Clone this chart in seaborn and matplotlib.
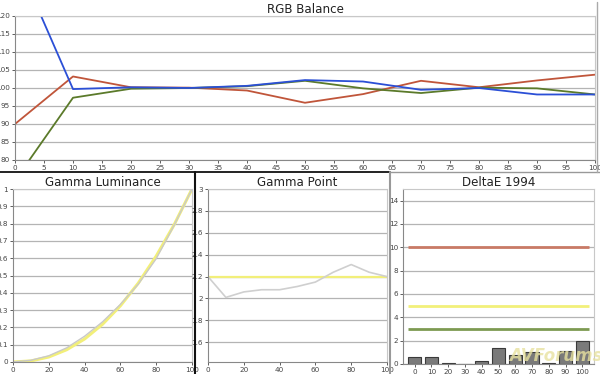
import matplotlib
matplotlib.use("Agg")
import matplotlib.pyplot as plt
import seaborn as sns
import pandas as pd
import numpy as np
from matplotlib.lines import Line2D

sns.set_theme(style="white")
plt.rcParams['font.family'] = ['DejaVu Sans']

# ---- data ----
levels = [0, 10, 20, 30, 40, 50, 60, 70, 80, 90, 100]
red = [90.0, 103.2, 100.2, 100.1, 99.3, 95.9, 98.3, 102.0, 100.2, 102.1, 103.7]
green = [74.3, 97.3, 99.8, 100.0, 100.5, 102.0, 99.9, 98.6, 100.1, 99.9, 98.2]
blue = [136.6, 99.7, 100.2, 100.0, 100.6, 102.2, 101.8, 99.5, 100.0, 98.2, 98.2]

lum_measured = [0.0, 0.0098, 0.036, 0.082, 0.149, 0.232, 0.333, 0.450, 0.597, 0.790, 1.0]
lum_target = [0.0, 0.0063, 0.029, 0.071, 0.133, 0.218, 0.325, 0.456, 0.612, 0.793, 1.0]

gamma_measured = [2.20, 2.01, 2.06, 2.08, 2.08, 2.11, 2.15, 2.24, 2.31, 2.24, 2.20]
gamma_target = [2.2] * 11

delta_e = [0.6, 0.6, 0.05, 0.0, 0.25, 1.35, 0.8, 1.0, 0.05, 1.1, 1.95]
de_thresholds = [10, 5, 3]
de_colors = ['#c97a66', '#f2f07a', '#7d9a52']

rgb_xticks = list(range(0, 101, 5))
rgb_yticks = list(range(80, 121, 5))
lum_yticks = [0, 0.1, 0.2, 0.3, 0.4, 0.5, 0.6, 0.7, 0.8, 0.9, 1]
lum_ytlabels = ['0', '0.1', '0.2', '0.3', '0.4', '0.5', '0.6', '0.7', '0.8', '0.9', '1']
pt_xticks = [0, 20, 40, 60, 80, 100]
gp_yticks = [1.6, 1.8, 2.0, 2.2, 2.4, 2.6, 2.8, 3.0]
gp_ytlabels = ['1.6', '1.8', '2', '2.2', '2.4', '2.6', '2.8', '3']
de_yticks = [0, 2, 4, 6, 8, 10, 12, 14]

# ---- figure ----
W, H = 600, 374
fig = plt.figure(figsize=(6.0, 3.74), dpi=100)
fig.patch.set_facecolor('white')

def box(l, t, r, b):
    return [l / W, 1 - b / H, (r - l) / W, (b - t) / H]

tick_fs = 5.2
tick_col = '#444444'
grid_col = '#b4b4b4'
frame_col = '#c8c8c8'
title_fs = 8.6

def style(ax):
    for s in ax.spines.values():
        s.set_color(frame_col)
        s.set_linewidth(0.8)
    ax.spines['left'].set_color('#888888')
    ax.spines['bottom'].set_color('#888888')
    ax.tick_params(axis='both', labelsize=tick_fs, colors=tick_col, length=2.5,
                   width=0.6, pad=1, direction='out', left=True, bottom=True)
    ax.yaxis.grid(True, color=grid_col, linewidth=0.9)
    ax.xaxis.grid(False)
    ax.set_xlabel('')
    ax.set_ylabel('')
    ax.set_facecolor('white')

# Top: RGB Balance
ax1 = fig.add_axes(box(15, 16, 595, 160))
df_rgb = pd.DataFrame({'level': levels * 3,
                       'value': red + green + blue,
                       'ch': ['R'] * 11 + ['G'] * 11 + ['B'] * 11})
sns.lineplot(data=df_rgb, x='level', y='value', hue='ch',
             palette={'R': '#c0553a', 'G': '#5b7a2a', 'B': '#2b4fd6'},
             hue_order=['R', 'G', 'B'], linewidth=1.3, legend=False, ax=ax1)
ax1.set_xlim(0, 100)
ax1.set_ylim(80, 120)
ax1.set_xticks(rgb_xticks)
ax1.set_yticks(rgb_yticks)
style(ax1)
ax1.set_title('RGB Balance', fontsize=title_fs, color='#222222', pad=2)

# Gamma Luminance
ax2 = fig.add_axes(box(13, 189, 192, 362))
df_lum = pd.DataFrame({'level': levels * 2, 'value': lum_target + lum_measured,
                       'kind': ['t'] * 11 + ['m'] * 11})
sns.lineplot(data=df_lum[df_lum.kind == 't'], x='level', y='value', color='#f2ef7a',
             linewidth=2.2, ax=ax2)
sns.lineplot(data=df_lum[df_lum.kind == 'm'], x='level', y='value', color='#c9c9c9',
             linewidth=1.0, ax=ax2)
ax2.set_xlim(0, 100)
ax2.set_ylim(0, 1)
ax2.set_xticks(pt_xticks)
ax2.set_xticklabels([str(v) for v in pt_xticks])
ax2.set_yticks(lum_yticks)
ax2.set_yticklabels(lum_ytlabels)
style(ax2)
ax2.set_title('Gamma Luminance', fontsize=title_fs, color='#222222', pad=2)

# Gamma Point
ax3 = fig.add_axes(box(208, 189, 387, 362))
df_gp = pd.DataFrame({'level': levels * 2, 'value': gamma_target + gamma_measured,
                      'kind': ['t'] * 11 + ['m'] * 11})
sns.lineplot(data=df_gp[df_gp.kind == 't'], x='level', y='value', color='#f2ef7a',
             linewidth=1.6, ax=ax3)
sns.lineplot(data=df_gp[df_gp.kind == 'm'], x='level', y='value', color='#cfcfcf',
             linewidth=1.2, ax=ax3)
ax3.set_xlim(0, 100)
ax3.set_ylim(1.42, 3.0)
ax3.set_xticks(pt_xticks)
ax3.set_xticklabels([str(v) for v in pt_xticks])
ax3.set_yticks(gp_yticks)
ax3.set_yticklabels(gp_ytlabels)
style(ax3)
ax3.set_title('Gamma Point', fontsize=title_fs, color='#222222', pad=2)

# DeltaE 1994
ax4 = fig.add_axes(box(403, 189, 594, 364))
df_de = pd.DataFrame({'level': [str(v) for v in levels], 'de': delta_e})
sns.barplot(data=df_de, x='level', y='de', color='#7a7a7a', saturation=1,
            edgecolor='#3a3a3a', linewidth=0.8, width=0.78, ax=ax4)
for thr, c in zip(de_thresholds, de_colors):
    ax4.hlines(thr, -0.4, len(levels) - 0.6, color=c, linewidth=2.0, zorder=3)
ax4.set_xlim(-0.7, len(levels) - 0.3)
ax4.set_ylim(0, 15)
ax4.set_yticks(de_yticks)
style(ax4)
ax4.set_title('DeltaE 1994', fontsize=title_fs, color='#222222', pad=2)
ax4.text(0.80, 0.045, 'AVForums', transform=ax4.transAxes, ha='center', va='center',
         fontsize=12, fontweight='bold', fontstyle='italic', color='#e8e2a0', alpha=0.8,
         zorder=5)

# panel separators
fig.add_artist(Line2D([0, 390 / W], [1 - 172 / H] * 2, color='#111111', linewidth=1.3))
fig.add_artist(Line2D([390 / W, 1], [1 - 172 / H] * 2, color='#999999', linewidth=1.0))
fig.add_artist(Line2D([194.5 / W] * 2, [0, 1 - 172 / H], color='#111111', linewidth=1.5))
fig.add_artist(Line2D([389.5 / W] * 2, [0, 1 - 172 / H], color='#999999', linewidth=1.5))
fig.add_artist(Line2D([596.5 / W] * 2, [1 - 172 / H, 1 - 2 / H], color='#aaaaaa', linewidth=1.0))

fig.savefig('out.png', dpi=100, facecolor='white')
